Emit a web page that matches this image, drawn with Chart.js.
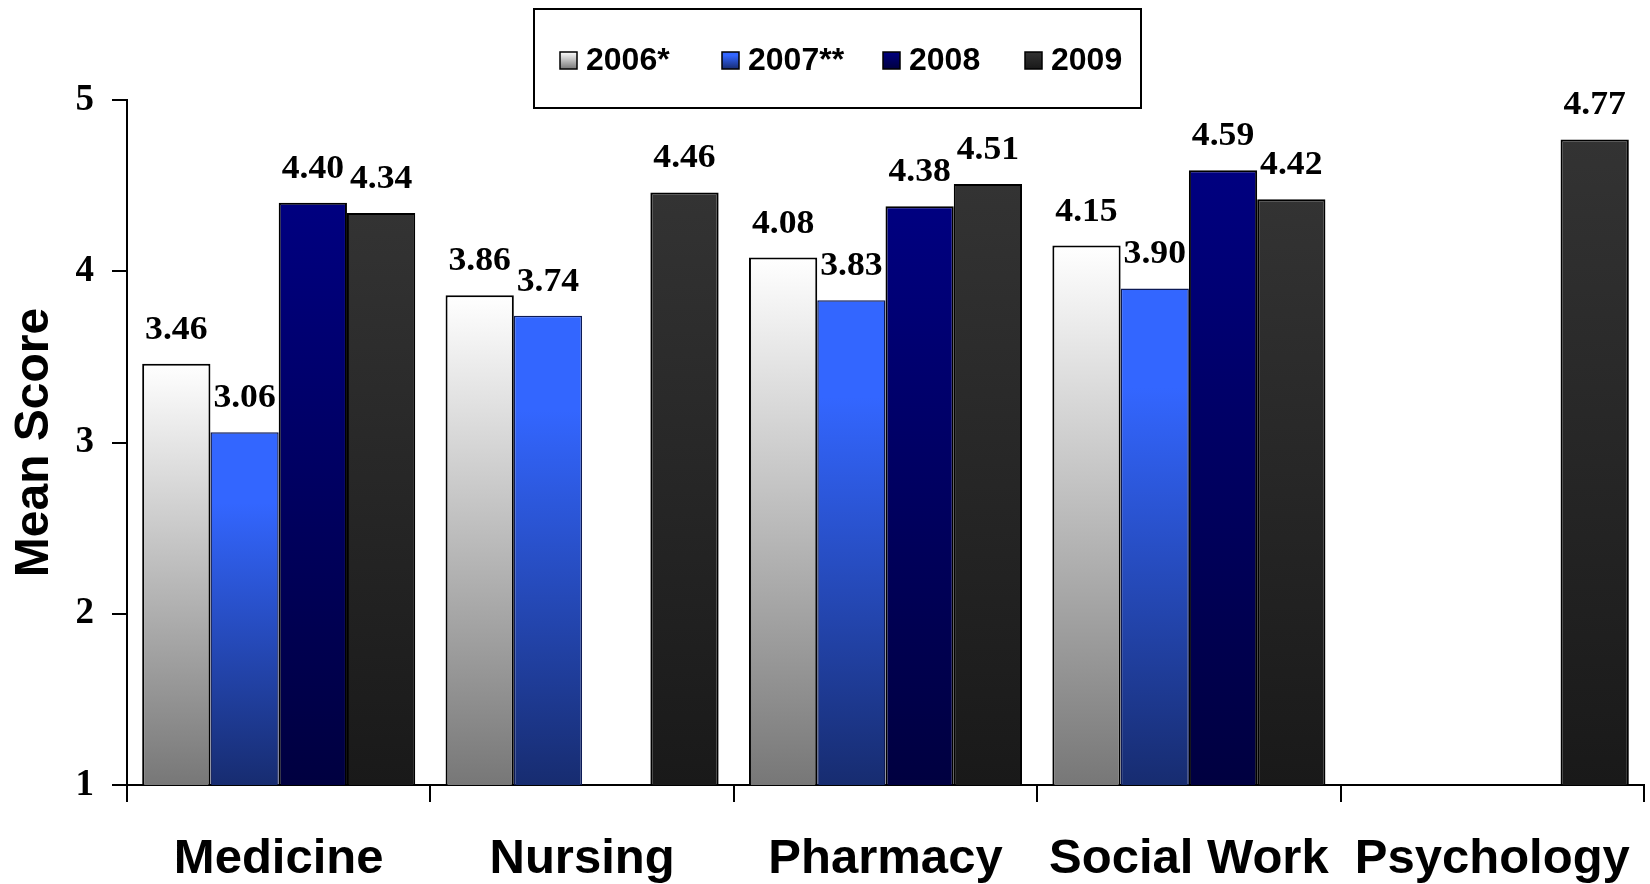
<!DOCTYPE html>
<html>
<head>
<meta charset="utf-8">
<title>Mean Score</title>
<script src="https://cdn.jsdelivr.net/npm/chart.js@4.4.1/dist/chart.umd.min.js"></script>
<style>
	body { margin: 0; background: #fff; }
	canvas { display: block; }
</style>
</head>
<body>
<canvas id="myChart" width="1650" height="884"></canvas>
<script>
const categories = ["Medicine", "Nursing", "Pharmacy", "Social Work", "Psychology"];
const seriesNames = ["2006*", "2007**", "2008", "2009"];
const scores2006 = [3.46, 3.86, 4.08, 4.15, null];
const scores2007 = [3.06, 3.74, 3.83, 3.90, null];
const scores2008 = [4.40, null, 4.38, 4.59, null];
const scores2009 = [4.34, 4.46, 4.51, 4.42, 4.77];
const yTicks = [1, 2, 3, 4, 5];

// gradient stops for each series, top of bar -> bottom of bar
const fills = [
	[[0, "#ffffff"], [1, "#777777"]],
	[[0, "#3366ff"], [0.2, "#3366ff"], [1, "#172c70"]],
	[[0, "#000080"], [1, "#000040"]],
	[[0, "#333333"], [1, "#191919"]]
];
const borders = ["#000000", "#0d1a55", "#000000", "#000000"];
const borderWidths = [2, 1.5, 2, 2];

function makeGradient(c, top, bottom, stops) {
	const g = c.createLinearGradient(0, top, 0, bottom);
	stops.forEach(s => g.addColorStop(s[0], s[1]));
	return g;
}

// every bar gets its own gradient, from its top down to the axis
function barFill(i) {
	return function(context) {
		const chart = context.chart;
		if (context.type !== "data" || !chart.chartArea || context.raw == null) {
			return fills[i][0][1];
		}
		const y = chart.scales.y;
		return makeGradient(chart.ctx, y.getPixelForValue(context.raw), y.getPixelForValue(y.min), fills[i]);
	};
}

const seriesData = [scores2006, scores2007, scores2008, scores2009];

// value above each bar, slightly widened serif
const valueLabels = {
	id: "valueLabels",
	afterDatasetsDraw(chart) {
		const c = chart.ctx;
		chart.data.datasets.forEach((ds, i) => {
			chart.getDatasetMeta(i).data.forEach((bar, j) => {
				const v = ds.data[j];
				if (v == null) return;
				c.save();
				c.font = "bold 33px 'Liberation Serif'";
				c.fillStyle = "#000";
				c.textAlign = "center";
				c.textBaseline = "alphabetic";
				c.translate(bar.x, bar.y - 25);
				c.scale(1.08, 1);
				c.fillText(v.toFixed(2), 0, 0);
				c.restore();
			});
		});
	}
};

// framed legend at the top
const boxLegend = {
	id: "boxLegend",
	afterDraw(chart) {
		const c = chart.ctx;
		const itemX = [560, 722, 883, 1025];
		const midY = 60;
		c.save();
		c.lineWidth = 2;
		c.strokeStyle = "#000";
		c.strokeRect(534, 9, 607, 99);
		c.font = "bold 32px 'Liberation Sans'";
		c.fillStyle = "#000";
		c.textBaseline = "middle";
		seriesNames.forEach((name, i) => {
			const x = itemX[i];
			c.fillStyle = makeGradient(c, midY - 8, midY + 9, fills[i]);
			c.fillRect(x, midY - 8, 17, 17);
			c.lineWidth = 1.5;
			c.strokeStyle = "#000";
			c.strokeRect(x, midY - 8, 17, 17);
			c.fillStyle = "#000";
			c.fillText(name, x + 26, midY + 1);
		});
		c.restore();
	}
};

const ctx = document.getElementById("myChart").getContext("2d");

const myChart = new Chart(ctx, {
	type: "bar",
	data: {
		labels: categories,
		datasets: seriesData.map((d, i) => ({
			label: seriesNames[i],
			data: d,
			backgroundColor: barFill(i),
			borderColor: borders[i],
			borderWidth: borderWidths[i],
			borderSkipped: "bottom",
			categoryPercentage: 0.9,
			barPercentage: 1.0
		}))
	},
	options: {
		responsive: false,
		animation: false,
		layout: { padding: { top: 100, right: 6, left: 0, bottom: 0 } },
		plugins: {
			legend: { display: false },
			tooltip: { enabled: false }
		},
		scales: {
			x: {
				afterFit(scale) {
					scale.height = 99;
					scale.paddingLeft = 0;
					scale.paddingRight = 0;
				},
				ticks: {
					color: "#000",
					padding: 33,
					maxRotation: 0,
					autoSkip: false,
					font: { family: "'Liberation Sans'", size: 49, weight: "bold", lineHeight: 1 }
				},
				grid: { drawOnChartArea: false, offset: true, tickLength: 17, color: "#000", lineWidth: 2 },
				border: { color: "#000", width: 2 }
			},
			y: {
				min: 1,
				max: 5,
				afterFit(scale) { scale.width = 127; },
				afterBuildTicks(scale) { scale.ticks = yTicks.map(v => ({ value: v })); },
				ticks: {
					color: "#000",
					padding: 18,
					font: { family: "'Liberation Serif'", size: 37, weight: "bold" }
				},
				grid: { drawOnChartArea: false, tickLength: 15, color: "#000", lineWidth: 2 },
				border: { color: "#000", width: 2 },
				title: {
					display: true,
					text: "Mean Score",
					color: "#000",
					padding: { top: 6, bottom: 4 },
					font: { family: "'Liberation Sans'", size: 48, weight: "bold" }
				}
			}
		}
	},
	plugins: [valueLabels, boxLegend]
});
</script>
</body>
</html>
